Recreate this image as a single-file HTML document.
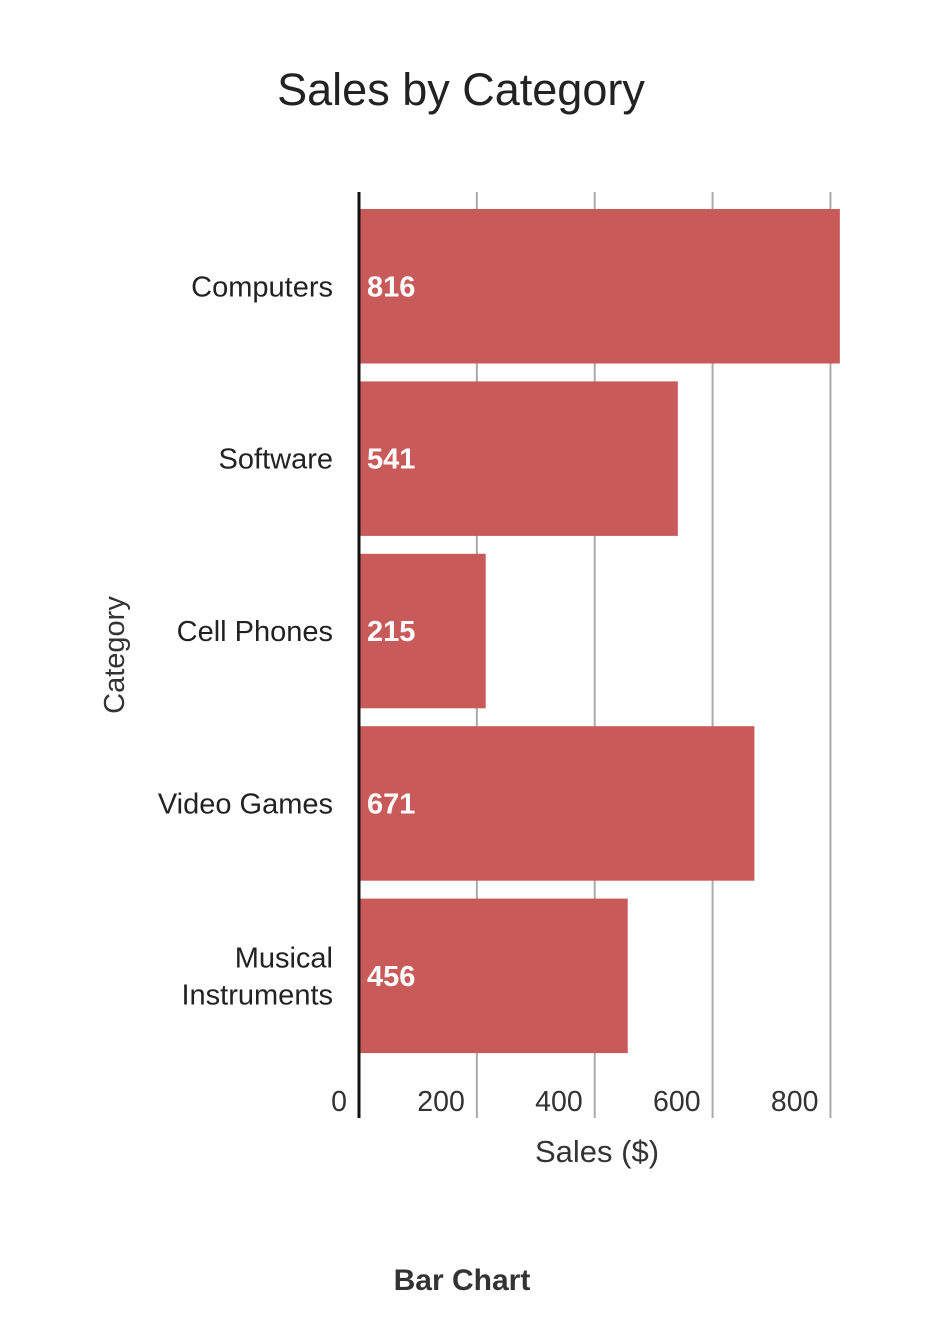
<!DOCTYPE html>
<html><head><meta charset="utf-8"><style>
body{margin:0;background:#fff;}
svg{display:block;font-family:"Liberation Sans",Arial,sans-serif;}
</style></head><body>
<svg id="chart" width="934" height="1322" viewBox="0 0 934 1322" xmlns="http://www.w3.org/2000/svg">
<rect width="934" height="1322" fill="#fff"/>
<text x="461" y="105" text-anchor="middle" font-size="45" fill="#222">Sales by Category</text>
<g id="grid"></g>
<g id="bars"></g>
<g id="ylabels"></g>
<g id="xticks"></g>
<line x1="359" y1="192" x2="359" y2="1118" stroke="#111" stroke-width="3"/>
<text transform="translate(124,655) rotate(-90)" text-anchor="middle" font-size="29" fill="#333">Category</text>
<text x="597" y="1162" text-anchor="middle" font-size="31" fill="#333">Sales ($)</text>
<text x="462" y="1290" text-anchor="middle" font-size="30" font-weight="bold" fill="#333">Bar Chart</text>
</svg>
<script>
const categories = [["Computers"],["Software"],["Cell Phones"],["Video Games"],["Musical","Instruments"]];
const values = [816, 541, 215, 671, 456];
const ticks = [0, 200, 400, 600, 800];
const NS = "http://www.w3.org/2000/svg";
const x0 = 359, pxPer = 0.5893;
const xs = v => x0 + v * pxPer;
const plotTop = 192, step = 172.4, pad = 17, bh = 154.5;
const ys = i => plotTop + i * step + pad;
function mk(tag, attrs, parent){const e=document.createElementNS(NS,tag);for(const k in attrs)e.setAttribute(k,attrs[k]);parent.appendChild(e);return e;}
const grid=document.getElementById('grid'),bars=document.getElementById('bars'),yl=document.getElementById('ylabels'),xt=document.getElementById('xticks');
ticks.forEach(t=>{
  if(t>0){
    const l=mk('line',{x1:xs(t),x2:xs(t),y1:192,y2:1118,stroke:'#aaa','stroke-width':2},grid);
    
    
  }
  const tx=mk('text',{x:xs(t)-12,y:1111,'font-size':28.5,fill:'#333','text-anchor':'end'},xt);
  tx.textContent=t;
  
  
});
values.forEach((v,i)=>{
  const r=mk('rect',{x:x0,y:ys(i),width:xs(v)-x0,height:bh,fill:'#c95a5a'},bars);
  
  
  const lt=mk('text',{x:367,y:ys(i)+bh/2+10,'font-size':29,'font-weight':'bold',fill:'#fff'},bars);
  lt.textContent=v;
  
  
  const lines=categories[i];
  lines.forEach((s,j)=>{
    const c=mk('text',{x:333,y:ys(i)+bh/2+10+(j-(lines.length-1)/2)*37,'font-size':29,fill:'#222','text-anchor':'end'},yl);
    c.textContent=s;
    
    
  });
});
</script>
</body></html>
